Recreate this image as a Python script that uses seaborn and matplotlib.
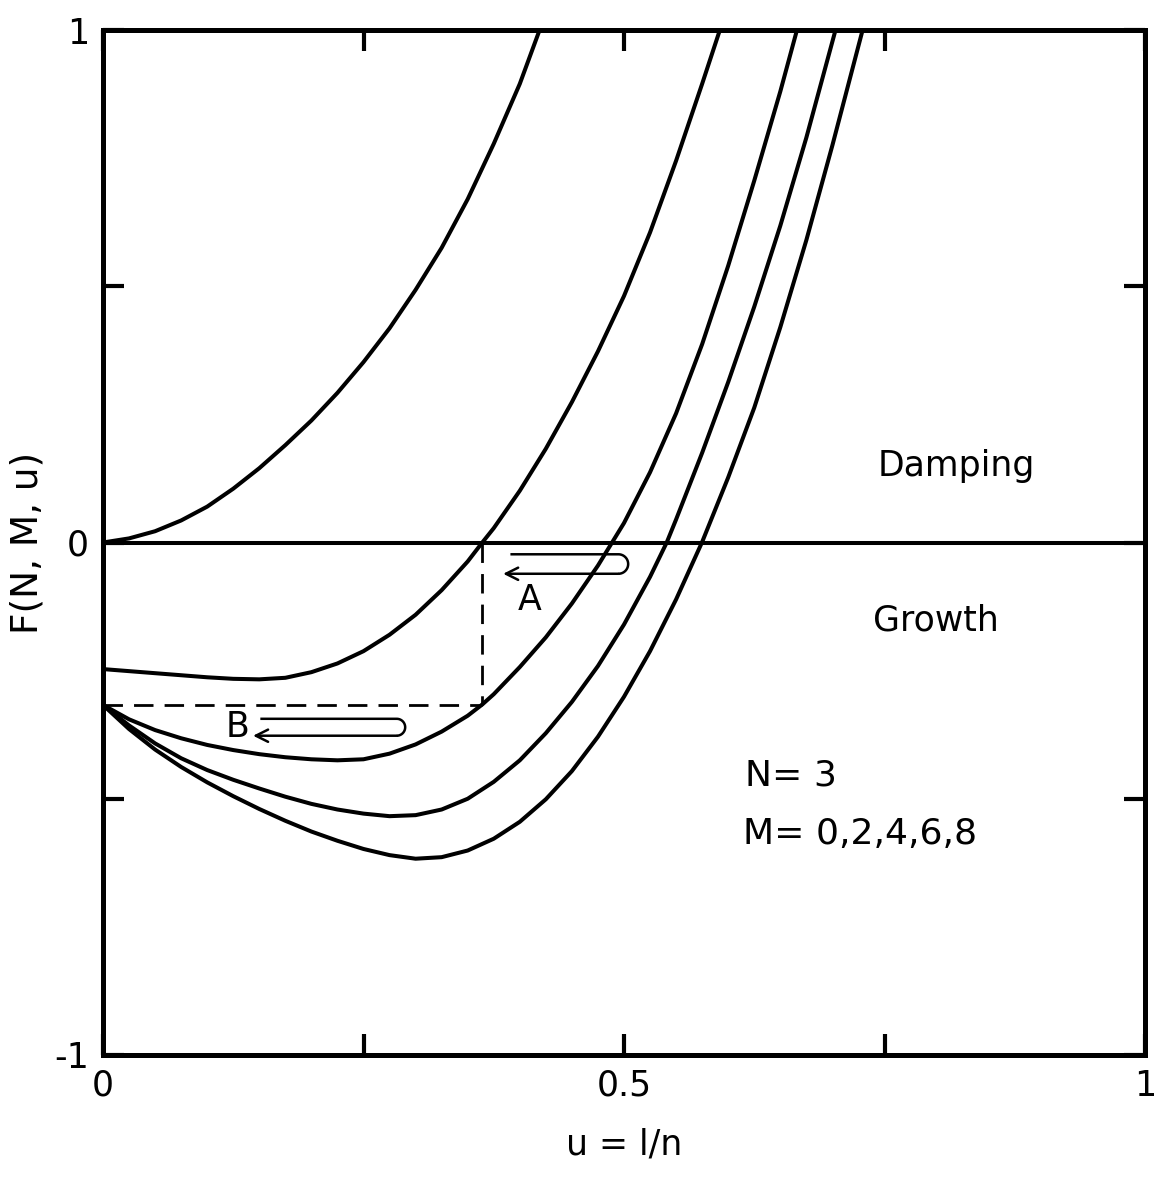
import numpy as np
import pandas as pd
import matplotlib
matplotlib.use("Agg")
import matplotlib.pyplot as plt
import seaborn as sns

# F(N, M, u) for N = 3
u_m0 = [0.0, 0.025, 0.05, 0.075, 0.1, 0.125, 0.15, 0.175, 0.2, 0.225, 0.25,
        0.275, 0.3, 0.325, 0.35, 0.375, 0.4, 0.419]
F_m0 = [0.0, 0.008, 0.022, 0.043, 0.070, 0.105, 0.145, 0.190, 0.238, 0.292, 0.352,
        0.418, 0.493, 0.575, 0.670, 0.778, 0.895, 1.0]

u_m2 = [0.0, 0.025, 0.05, 0.075, 0.1, 0.125, 0.15, 0.175, 0.2, 0.225, 0.25, 0.275,
        0.3, 0.325, 0.35, 0.364, 0.375, 0.4, 0.425, 0.45, 0.475, 0.5, 0.525, 0.55,
        0.575, 0.592]
F_m2 = [-0.247, -0.251, -0.255, -0.259, -0.263, -0.266, -0.267, -0.264, -0.253,
        -0.236, -0.212, -0.180, -0.141, -0.093, -0.037, 0.0, 0.028, 0.101, 0.183,
        0.274, 0.373, 0.481, 0.605, 0.745, 0.895, 1.0]

u_m4 = [0.0, 0.025, 0.05, 0.075, 0.1, 0.125, 0.15, 0.175, 0.2, 0.225, 0.25, 0.275,
        0.3, 0.325, 0.35, 0.364, 0.375, 0.4, 0.425, 0.45, 0.475, 0.5, 0.525, 0.55,
        0.575, 0.6, 0.625, 0.65, 0.666]
F_m4 = [-0.317, -0.345, -0.366, -0.382, -0.395, -0.405, -0.413, -0.419, -0.423,
        -0.425, -0.423, -0.412, -0.394, -0.369, -0.338, -0.316, -0.296, -0.243,
        -0.185, -0.119, -0.045, 0.038, 0.137, 0.252, 0.387, 0.540, 0.706, 0.880, 1.0]

u_m6 = [0.0, 0.025, 0.05, 0.075, 0.1, 0.125, 0.15, 0.175, 0.2, 0.225, 0.25, 0.275,
        0.3, 0.325, 0.35, 0.375, 0.4, 0.425, 0.45, 0.475, 0.5, 0.525, 0.541, 0.55,
        0.575, 0.6, 0.625, 0.65, 0.675, 0.703]
F_m6 = [-0.317, -0.357, -0.392, -0.421, -0.444, -0.463, -0.480, -0.496, -0.510,
        -0.521, -0.529, -0.534, -0.532, -0.521, -0.500, -0.467, -0.425, -0.372,
        -0.311, -0.241, -0.160, -0.067, 0.0, 0.045, 0.175, 0.313, 0.460, 0.618,
        0.790, 1.0]

u_m8 = [0.0, 0.025, 0.05, 0.075, 0.1, 0.125, 0.15, 0.175, 0.2, 0.225, 0.25, 0.275,
        0.3, 0.325, 0.35, 0.375, 0.4, 0.425, 0.45, 0.475, 0.5, 0.525, 0.55, 0.575,
        0.6, 0.625, 0.65, 0.675, 0.7, 0.729]
F_m8 = [-0.317, -0.364, -0.404, -0.438, -0.468, -0.495, -0.520, -0.543, -0.564,
        -0.582, -0.598, -0.610, -0.617, -0.614, -0.601, -0.578, -0.545, -0.501,
        -0.446, -0.379, -0.301, -0.212, -0.111, 0.001, 0.127, 0.263, 0.420, 0.590,
        0.775, 1.0]

curves = {0: (u_m0, F_m0), 2: (u_m2, F_m2), 4: (u_m4, F_m4),
          6: (u_m6, F_m6), 8: (u_m8, F_m8)}

# construction lines: M=2 zero crossing -> value of M=4 curve
u_cross = 0.364
F_start = -0.317

x_ticks = [0, 0.25, 0.5, 0.75, 1]
x_labels = ['0', '', '0.5', '', '1']
y_ticks = [-1, -0.5, 0, 0.5, 1]
y_labels = ['-1', '', '0', '', '1']

sns.set_style("ticks")
plt.rcParams['font.family'] = ['DejaVu Sans']
plt.rcParams['text.color'] = 'black'
plt.rcParams['axes.labelcolor'] = 'black'
plt.rcParams['axes.edgecolor'] = 'black'
plt.rcParams['xtick.color'] = 'black'
plt.rcParams['ytick.color'] = 'black'

fig = plt.figure(figsize=(11.56, 11.77), dpi=100)
ax = fig.add_axes([103 / 1156, 1 - 1055 / 1177, 1042 / 1156, 1025 / 1177])

for M, (u, F) in curves.items():
    df = pd.DataFrame({'u': u, 'F': F})
    sns.lineplot(data=df, x='u', y='F', ax=ax, color='black', lw=2.9,
                 sort=False, estimator=None)

ax.axhline(0, color='black', lw=2.9)

# dashed construction
ax.plot([u_cross, u_cross], [0, F_start], color='black', lw=2.0, dashes=(7, 4))
ax.plot([0, u_cross], [F_start, F_start], color='black', lw=2.0, dashes=(7, 4))


def hairpin(ax, x_tip, x_end, y_top, y_bot):
    """thin U-shaped arrow pointing left"""
    ry = (y_top - y_bot) / 2
    yc = (y_top + y_bot) / 2
    rx = ry * 512.5 / 1042
    t = np.linspace(np.pi / 2, -np.pi / 2, 40)
    xs = np.r_[x_tip + 0.007, x_end - rx + rx * np.cos(t)]
    ys = np.r_[y_top, yc + ry * np.sin(t)]
    ax.plot(xs, ys, color='black', lw=1.8, solid_capstyle='butt')
    ax.annotate('', xy=(x_tip, y_bot), xytext=(x_end - rx, y_bot),
                arrowprops=dict(arrowstyle='->', lw=1.8, color='black',
                                mutation_scale=22, shrinkA=0, shrinkB=0))


hairpin(ax, 0.384, 0.504, -0.023, -0.061)
hairpin(ax, 0.144, 0.290, -0.344, -0.377)
ax.text(0.409, -0.113, 'A', fontsize=25, ha='center', va='center')
ax.text(0.129, -0.360, 'B', fontsize=25, ha='center', va='center')

ax.text(0.743, 0.15, 'Damping', fontsize=25, ha='left', va='center')
ax.text(0.739, -0.153, 'Growth', fontsize=25, ha='left', va='center')
ax.text(0.616, -0.454, 'N= 3', fontsize=26, ha='left', va='center')
ax.text(0.614, -0.569, 'M= 0,2,4,6,8', fontsize=26, ha='left', va='center')

ax.set_xlim(0, 1)
ax.set_ylim(-1, 1)
ax.set_xticks(x_ticks)
ax.set_xticklabels(x_labels)
ax.set_yticks(y_ticks)
ax.set_yticklabels(y_labels)
ax.tick_params(direction='in', length=15, width=3, labelsize=25,
               top=True, right=True, pad=10)
for side in ax.spines.values():
    side.set_visible(True)
    side.set_linewidth(3.6)
    side.set_color('black')

ax.set_xlabel('u = l/n', fontsize=25, labelpad=18)
ax.set_ylabel('F(N, M, u)', fontsize=27, labelpad=6)

fig.savefig('out.png', dpi=100)
